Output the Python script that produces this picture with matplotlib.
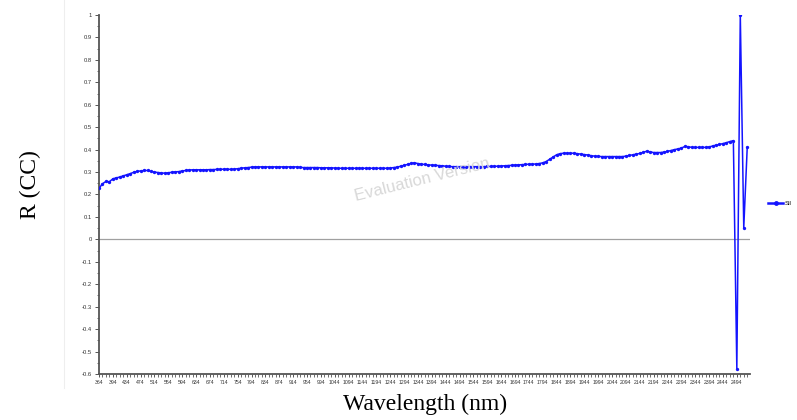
import matplotlib
matplotlib.use("Agg")
import matplotlib.pyplot as plt
from matplotlib.lines import Line2D
from matplotlib.ticker import MultipleLocator, FixedLocator

# ---- data ----
tick_labels = (["364", "394"] + [str(v) for v in range(434, 995, 40)]
               + [str(v) for v in range(1044, 2495, 50)])

r_values = [
    0.227, 0.248, 0.258, 0.257, 0.270, 0.274, 0.278, 0.283,
    0.288, 0.293, 0.299, 0.303, 0.305, 0.307, 0.307, 0.303,
    0.300, 0.298, 0.296, 0.295, 0.297, 0.299, 0.301, 0.302,
    0.305, 0.307, 0.309, 0.310, 0.310, 0.310, 0.310, 0.310,
    0.311, 0.311, 0.312, 0.312, 0.313, 0.313, 0.312, 0.313,
    0.315, 0.317, 0.319, 0.320, 0.322, 0.323, 0.323, 0.323,
    0.323, 0.323, 0.323, 0.323, 0.323, 0.323, 0.323, 0.323,
    0.323, 0.323, 0.321, 0.320, 0.320, 0.320, 0.320, 0.320,
    0.319, 0.319, 0.319, 0.319, 0.318, 0.317, 0.317, 0.317,
    0.317, 0.317, 0.317, 0.317, 0.317, 0.317, 0.317, 0.317,
    0.317, 0.317, 0.317, 0.317, 0.318, 0.320, 0.322, 0.326,
    0.330, 0.334, 0.339, 0.341, 0.338, 0.335, 0.334, 0.332,
    0.331, 0.330, 0.329, 0.328, 0.326, 0.325, 0.324, 0.324,
    0.324, 0.324, 0.324, 0.324, 0.324, 0.324, 0.324, 0.324,
    0.325, 0.325, 0.326, 0.326, 0.327, 0.328, 0.329, 0.330,
    0.331, 0.332, 0.333, 0.334, 0.335, 0.335, 0.336, 0.338,
    0.341, 0.347, 0.357, 0.367, 0.377, 0.382, 0.384, 0.384,
    0.384, 0.384, 0.382, 0.380, 0.378, 0.376, 0.373, 0.371,
    0.370, 0.369, 0.369, 0.369, 0.369, 0.369, 0.369, 0.369,
    0.371, 0.374, 0.377, 0.380, 0.383, 0.388, 0.393, 0.390,
    0.387, 0.387, 0.387, 0.389, 0.392, 0.396, 0.400, 0.403,
    0.407, 0.414, 0.413, 0.410, 0.410, 0.410, 0.410, 0.410,
    0.412, 0.416, 0.420, 0.423, 0.427, 0.431, 0.436, 0.440,
    -0.576, 1.000, 0.052, 0.410,
]
series_name = "Sil"
y_ticks = [round(-0.6 + 0.1 * i, 1) for i in range(17)]

# ---- figure ----
W, H = 797, 420
fig = plt.figure(figsize=(W / 100, H / 100), dpi=100)
ax = fig.add_axes([99 / W, 1 - 374 / H, (750 - 99) / W, (374 - 15) / H])

x = list(range(len(r_values)))
line, = ax.plot(x, r_values, color="#1414ff", lw=1.1, marker="o",
                markersize=2.4, markeredgewidth=0, zorder=3)
ax.axhline(0, color="#a0a0a0", lw=0.9, zorder=1)

ax.set_xlim(0, 187.8)
ax.set_ylim(-0.6, 1.0)

ax.xaxis.set_major_locator(FixedLocator(list(range(0, 4 * len(tick_labels), 4))))
ax.set_xticklabels(tick_labels, family="Liberation Sans")
ax.xaxis.set_minor_locator(MultipleLocator(1))
ax.set_yticks(y_ticks)
ax.set_yticklabels([("%g" % v) for v in y_ticks], family="Liberation Sans")
ax.yaxis.set_minor_locator(MultipleLocator(0.05))

for s in ("top", "right"):
    ax.spines[s].set_visible(False)
for s in ("left", "bottom"):
    ax.spines[s].set_color("#555555")
    ax.spines[s].set_linewidth(1.3)

ax.tick_params(axis="x", which="major", labelsize=3.7, colors="#555555",
               labelcolor="#333333", length=2.5, width=0.7, pad=2)
ax.tick_params(axis="y", which="major", labelsize=4.2, colors="#555555",
               labelcolor="#333333", length=3, width=0.7, pad=2)
ax.tick_params(axis="both", which="minor", length=1.8, width=0.6,
               colors="#555555")

# axis titles
fig.text(30 / W, 1 - 185 / H, "R (CC)", rotation=90, ha="center", va="center",
         fontsize=17, family="Liberation Serif")
fig.text(425 / W, 1 - 404 / H, "Wavelength (nm)", ha="center", va="center",
         fontsize=17, family="Liberation Serif")

# watermark
fig.text(422 / W, 1 - 180 / H, "Evaluation Version", ha="center", va="center",
         rotation=14, fontsize=12, color="#d8d8d8", family="Liberation Sans")

# legend
leg = fig.legend([line], [series_name], loc="center left",
                 bbox_to_anchor=(768 / W, 1 - 203 / H), frameon=False,
                 handlelength=2.4, handletextpad=0.3,
                 borderaxespad=0, borderpad=0,
                 prop={"family": "Liberation Sans", "size": 4.5})
for h in leg.legend_handles:
    h.set_linewidth(1.8)
    h.set_markersize(3.5)

# faint chart border
fig.add_artist(Line2D([64 / W, 64 / W], [1 - 0 / H, 1 - 388 / H],
                      transform=fig.transFigure, color="#eeeeee", lw=0.8))

fig.savefig("out.png", dpi=100)
